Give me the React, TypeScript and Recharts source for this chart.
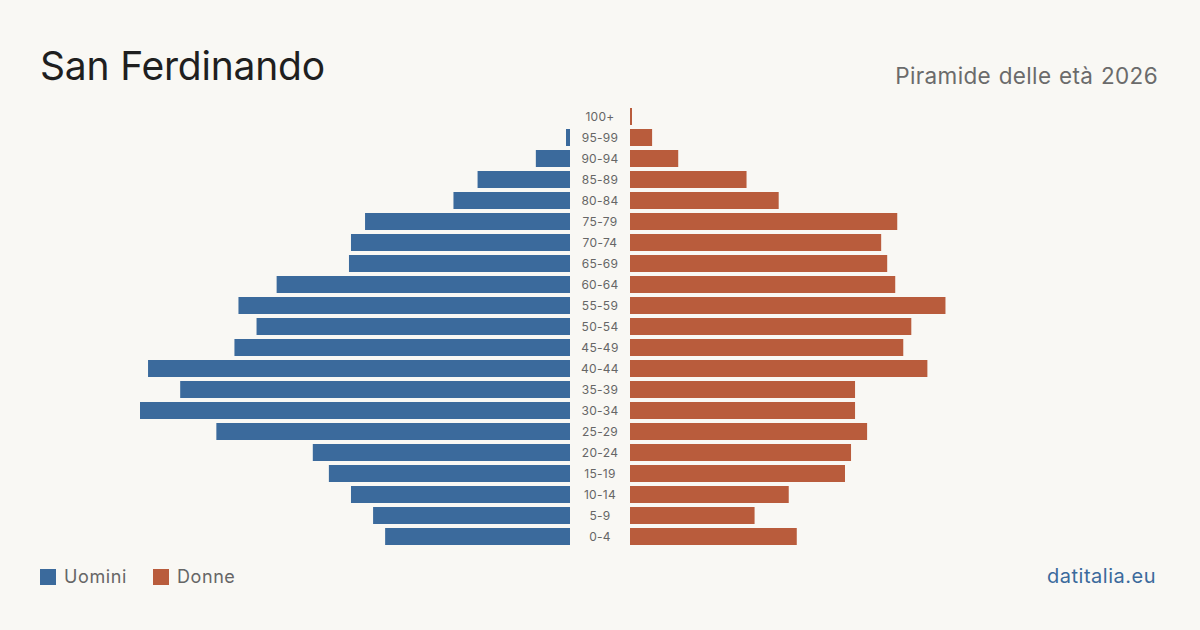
import { BarChart, Bar, XAxis, YAxis } from "recharts";

// classi d'età, dall'alto verso il basso
const classi = [
  "100+", "95-99", "90-94", "85-89", "80-84", "75-79", "70-74", "65-69",
  "60-64", "55-59", "50-54", "45-49", "40-44", "35-39", "30-34", "25-29",
  "20-24", "15-19", "10-14", "5-9", "0-4",
];
const uomini = [0, 2, 17, 46, 58, 102, 109, 110, 146, 165, 156, 167, 210, 194, 214, 176, 128, 120, 109, 98, 92];
const donne = [1, 11, 24, 58, 74, 133, 125, 128, 132, 157, 140, 136, 148, 112, 112, 118, 110, 107, 79, 62, 83];

const dati = classi.map((eta, i) => ({ eta, uomini: uomini[i], donne: donne[i] }));

const BLU = "#3b6a9c";
const ROSSO = "#b95c3c";
const FONT = "Inter, 'Noto Sans', sans-serif";
const MAX = 214;

const EtaTick = (props: any) => {
  const { y, payload } = props;
  return (
    <text x={30} y={y} dy={4} textAnchor="middle" fontSize={12} letterSpacing={0.3} fill="#666" fontFamily={FONT}>
      {payload.value}
    </text>
  );
};

export default function App() {
  return (
    <div style={{ position: "absolute", left: 0, top: 0, width: 1200, height: 630, background: "#f9f8f4", fontFamily: FONT, overflow: "hidden" }}>
      <div style={{ position: "absolute", left: 40, top: 42, fontSize: 39, letterSpacing: -0.2, color: "#1f1f1f", lineHeight: "48px" }}>San Ferdinando</div>
      <div style={{ position: "absolute", right: 42, top: 62, fontSize: 22.5, letterSpacing: 0.35, wordSpacing: 1, color: "#6b6b6b", lineHeight: "28px" }}>Piramide delle età 2026</div>

      {/* maschi a sinistra, asse invertito */}
      <div style={{ position: "absolute", left: 140, top: 105.5 }}>
        <BarChart width={430} height={441} data={dati} layout="vertical" margin={{ top: 0, right: 0, bottom: 0, left: 0 }} barCategoryGap={2}>
          <XAxis type="number" domain={[0, MAX]} reversed hide />
          <YAxis type="category" dataKey="eta" hide />
          <Bar dataKey="uomini" fill={BLU} barSize={17} isAnimationActive={false} />
        </BarChart>
      </div>

      {/* femmine a destra, etichette al centro */}
      <div style={{ position: "absolute", left: 570, top: 105.5 }}>
        <BarChart width={490} height={441} data={dati} layout="vertical" margin={{ top: 0, right: 0, bottom: 0, left: 0 }} barCategoryGap={2}>
          <XAxis type="number" domain={[0, MAX]} hide />
          <YAxis type="category" dataKey="eta" width={60} axisLine={false} tickLine={false} tickSize={0} tickMargin={0} tick={<EtaTick />} interval={0} />
          <Bar dataKey="donne" fill={ROSSO} barSize={17} isAnimationActive={false} />
        </BarChart>
      </div>

      <div style={{ position: "absolute", left: 40, top: 566, display: "flex", alignItems: "center", fontSize: 18, letterSpacing: 0.6, color: "#666" }}>
        <span style={{ width: 16, height: 16, background: BLU, display: "inline-block", marginRight: 8 }} />
        <span>Uomini</span>
        <span style={{ width: 16, height: 16, background: ROSSO, display: "inline-block", marginLeft: 26, marginRight: 8 }} />
        <span>Donne</span>
      </div>
      <div style={{ position: "absolute", right: 44, top: 564, fontSize: 20, letterSpacing: 0.5, color: BLU }}>datitalia.eu</div>
    </div>
  );
}
